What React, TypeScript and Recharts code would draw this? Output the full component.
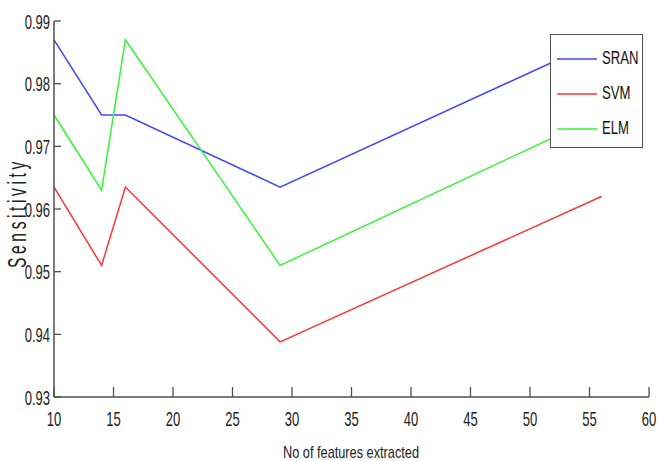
import { LineChart, Line, XAxis, YAxis } from 'recharts';

// features extracted (x) and sensitivity per classifier
const features = [10, 14, 16, 29, 56];
const sran = [0.987, 0.975, 0.975, 0.9635, 0.987];
const svm = [0.9635, 0.951, 0.9635, 0.9388, 0.962];
const elm = [0.975, 0.963, 0.987, 0.951, 0.975];

const xTicks = [10, 15, 20, 25, 30, 35, 40, 45, 50, 55, 60];
const yTicks = [0.93, 0.94, 0.95, 0.96, 0.97, 0.98, 0.99];

const series = [
  { key: 'SRAN', color: '#4545ff', values: sran },
  { key: 'SVM', color: '#ff3535', values: svm },
  { key: 'ELM', color: '#35f535', values: elm },
];

const data = features.map((f, i) => ({
  x: f,
  SRAN: sran[i],
  SVM: svm[i],
  ELM: elm[i],
}));

const font = '"Liberation Sans", Arial, sans-serif';
const axisColor = '#505050';
const textColor = '#222';

// inward tick marks drawn by hand, labels squeezed like the narrow font of the original
const BottomTick = ({ x, y, payload }: any) => (
  <g>
    <line x1={x} y1={y} x2={x} y2={y - 10} stroke={axisColor} strokeWidth={1.3} />
    <text
      transform={`translate(${x},${y + 29}) scale(0.62,1)`}
      textAnchor="middle"
      fontSize={21}
      fontFamily={font}
      fill={textColor}
    >
      {payload.value}
    </text>
  </g>
);

const TopTick = ({ x, y }: any) => (
  <line x1={x} y1={y} x2={x} y2={y + 10} stroke={axisColor} strokeWidth={1.3} />
);

const LeftTick = ({ x, y, payload }: any) => (
  <g>
    <line x1={x} y1={y} x2={x + 7} y2={y} stroke={axisColor} strokeWidth={1.3} />
    <text
      transform={`translate(${x - 4},${y + 7.5}) scale(0.62,1)`}
      textAnchor="end"
      fontSize={21}
      fontFamily={font}
      fill={textColor}
    >
      {Number(payload.value).toFixed(2)}
    </text>
  </g>
);

const RightTick = ({ x, y }: any) => (
  <line x1={x} y1={y} x2={x - 7} y2={y} stroke={axisColor} strokeWidth={1.3} />
);

function LegendBox() {
  return (
    <div
      style={{
        position: 'absolute',
        left: 550,
        top: 34,
        width: 93,
        height: 114,
        border: `1.5px solid ${axisColor}`,
        background: '#fff',
        boxSizing: 'border-box',
        paddingTop: 6,
        fontFamily: font,
        fontSize: 18,
        color: '#111',
        overflow: 'hidden',
      }}
    >
      {series.map((s) => (
        <div key={s.key} style={{ display: 'flex', alignItems: 'center', height: 35 }}>
          <svg width={40} height={4} style={{ marginLeft: 6, marginRight: 5, flexShrink: 0 }}>
            <line x1={0} y1={2} x2={40} y2={2} stroke={s.color} strokeWidth={1.5} />
          </svg>
          <span
            style={{
              display: 'inline-block',
              whiteSpace: 'nowrap',
              flexShrink: 0,
              transform: 'scale(0.73,1)',
              transformOrigin: 'left center',
            }}
          >
            {s.key}
          </span>
        </div>
      ))}
    </div>
  );
}

export default function App() {
  return (
    <div style={{ position: 'relative', width: 658, height: 461, background: '#fff' }}>
      <style>{`body{margin:0}`}</style>
      <LineChart width={658} height={461} data={data} margin={{ top: 21, right: 9, bottom: 0, left: 0 }}>
        <XAxis
          dataKey="x"
          type="number"
          domain={[10, 60]}
          ticks={xTicks}
          tick={<BottomTick />}
          tickLine={false}
          tickSize={0}
          tickMargin={0}
          stroke={axisColor}
          strokeWidth={1.5}
          height={64}
          interval={0}
          label={() => (
            <text
              transform="translate(351,458) scale(0.75,1)"
              textAnchor="middle"
              fontSize={17}
              fontFamily={font}
              fill={textColor}
            >
              No of features extracted
            </text>
          )}
        />
        <XAxis
          xAxisId="top"
          dataKey="x"
          type="number"
          orientation="top"
          domain={[10, 60]}
          ticks={xTicks}
          tick={<TopTick />}
          tickLine={false}
          tickSize={0}
          tickMargin={0}
          stroke={axisColor}
          strokeWidth={1.5}
          height={0}
          interval={0}
        />
        <YAxis
          type="number"
          domain={[0.93, 0.99]}
          ticks={yTicks}
          tick={<LeftTick />}
          tickLine={false}
          tickSize={0}
          tickMargin={0}
          stroke={axisColor}
          strokeWidth={1.5}
          width={54}
          interval={0}
          label={() => (
            <text
              transform="translate(26,213) rotate(-90) scale(0.6,1)"
              textAnchor="middle"
              fill={textColor}
              fontSize={26}
              fontFamily={font}
              letterSpacing={6}
            >
              Sensitivity
            </text>
          )}
        />
        <YAxis
          yAxisId="right"
          type="number"
          orientation="right"
          domain={[0.93, 0.99]}
          ticks={yTicks}
          tick={<RightTick />}
          tickLine={false}
          tickSize={0}
          tickMargin={0}
          stroke={axisColor}
          strokeWidth={1.5}
          width={0}
          interval={0}
        />
        {series.map((s) => (
          <Line
            key={s.key}
            type="linear"
            dataKey={s.key}
            stroke={s.color}
            strokeWidth={1.5}
            dot={false}
            isAnimationActive={false}
          />
        ))}
      </LineChart>
      <LegendBox />
    </div>
  );
}
